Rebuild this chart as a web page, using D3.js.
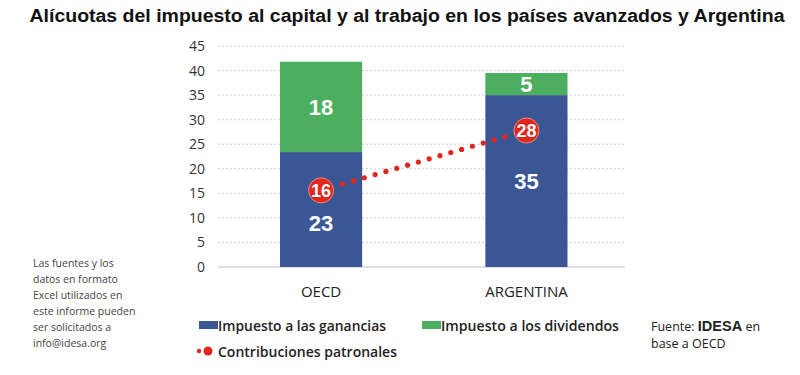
<!DOCTYPE html>
<html><head><meta charset="utf-8">
<script src="https://cdn.jsdelivr.net/npm/d3@7"></script>
<style>body{margin:0;background:#fff}</style>
</head><body>
<svg id="c" width="800" height="375"></svg>
<script>
const categories = ["OECD", "ARGENTINA"];
const ganancias = [23.4, 35.0];
const dividendos = [18.4, 4.5];
const contribuciones = [15.6, 27.8];
const yTicks = [0, 5, 10, 15, 20, 25, 30, 35, 40, 45];
const noteLines = ["Las fuentes y los", "datos en formato", "Excel utilizados en", "este informe pueden", "ser solicitados a", "info@idesa.org"];

const blue = "#3a5694", green = "#4caf5f", red = "#e2261c";
const svg = d3.select("#c");
const x = d3.scaleBand().domain(categories).range([280, 567.5]).paddingInner(0.6).paddingOuter(0);
const y = d3.scaleLinear().domain([0, 45]).range([267, 46]);

svg.append("text").attr("x", 407).attr("y", 22).attr("text-anchor", "middle")
  .attr("font-family", "Liberation Sans, Arial, sans-serif").attr("font-weight", "bold")
  .attr("font-size", 18).attr("fill", "#111").attr("textLength", 755).attr("lengthAdjust", "spacingAndGlyphs")
  .text("Alícuotas del impuesto al capital y al trabajo en los países avanzados y Argentina");

// grid
svg.append("g").selectAll("line").data(yTicks.filter(d => d > 0)).join("line")
  .attr("x1", 218).attr("x2", 625).attr("y1", d => y(d)).attr("y2", d => y(d))
  .attr("stroke", "#cfcfcf").attr("stroke-dasharray", "2,2").attr("stroke-width", 1);
svg.append("line").attr("x1", 218).attr("x2", 625).attr("y1", y(0)).attr("y2", y(0))
  .attr("stroke", "#d6d6d6").attr("stroke-width", 1.5);

const ax = svg.append("g").attr("transform", "translate(205,0)")
  .call(d3.axisLeft(y).tickValues(yTicks).tickSize(0).tickPadding(0));
ax.select(".domain").remove();
ax.selectAll("text").attr("font-family", "Open Sans, sans-serif").attr("font-size", 14).attr("fill", "#333");

const xa = svg.append("g").attr("transform", "translate(0," + y(0) + ")")
  .call(d3.axisBottom(x).tickSize(0).tickPadding(19));
xa.select(".domain").remove();
xa.selectAll("text").attr("font-family", "Open Sans, sans-serif").attr("font-size", 15).attr("fill", "#222");

// bars
const bw = x.bandwidth();
svg.append("g").selectAll("rect").data(categories).join("rect")
  .attr("x", d => x(d)).attr("width", bw)
  .attr("y", (d, i) => y(ganancias[i])).attr("height", (d, i) => y(0) - y(ganancias[i])).attr("fill", blue);
svg.append("g").selectAll("rect").data(categories).join("rect")
  .attr("x", d => x(d)).attr("width", bw)
  .attr("y", (d, i) => y(ganancias[i] + dividendos[i]))
  .attr("height", (d, i) => y(ganancias[i]) - y(ganancias[i] + dividendos[i])).attr("fill", green);

const lblFont = "Liberation Sans, Arial, sans-serif";
svg.append("g").selectAll("text").data(categories).join("text")
  .attr("x", d => x(d) + bw / 2).attr("y", (d, i) => (i === 0 ? y(9) : y(ganancias[i] * 0.5)) + 8)
  .attr("text-anchor", "middle").attr("font-family", lblFont).attr("font-weight", "bold").attr("font-size", 22)
  .attr("fill", "#fff").text((d, i) => Math.round(ganancias[i]));
svg.append("g").selectAll("text").data(categories).join("text")
  .attr("x", d => x(d) + bw / 2).attr("y", (d, i) => y(ganancias[i] + dividendos[i] / 2) + 8)
  .attr("text-anchor", "middle").attr("font-family", lblFont).attr("font-weight", "bold").attr("font-size", 22)
  .attr("fill", "#fff").text((d, i) => Math.round(dividendos[i]));

// dotted line
const pts = categories.map((c, i) => [x(c) + bw / 2, y(contribuciones[i])]);
const dx = pts[1][0] - pts[0][0], dy = pts[1][1] - pts[0][1];
const L = Math.hypot(dx, dy), n = Math.round(L / 11);
const dots = d3.range(1, n).map(k => [pts[0][0] + dx * k / n, pts[0][1] + dy * k / n])
  .filter(p => Math.hypot(p[0] - pts[0][0], p[1] - pts[0][1]) > 14 && Math.hypot(p[0] - pts[1][0], p[1] - pts[1][1]) > 12);
svg.append("g").selectAll("circle").data(dots).join("circle")
  .attr("cx", d => d[0]).attr("cy", d => d[1]).attr("r", 2.6).attr("fill", red);
svg.append("g").selectAll("circle").data(pts).join("circle")
  .attr("cx", d => d[0]).attr("cy", d => d[1]).attr("r", 12.5).attr("fill", red)
  .attr("stroke", "#f08a80").attr("stroke-width", 1);
svg.append("g").selectAll("text").data(pts).join("text")
  .attr("x", d => d[0]).attr("y", d => d[1] + 6.5).attr("text-anchor", "middle")
  .attr("font-family", lblFont).attr("font-weight", "bold").attr("font-size", 18).attr("fill", "#fff")
  .text((d, i) => Math.round(contribuciones[i]));

// legend
const lf = "Open Sans, sans-serif";
svg.append("rect").attr("x", 199).attr("y", 321).attr("width", 19).attr("height", 8).attr("fill", blue);
svg.append("text").attr("x", 218).attr("y", 331).attr("font-family", lf).attr("font-weight", 600).attr("font-size", 13.5)
  .attr("fill", "#222").attr("textLength", 168).attr("lengthAdjust", "spacingAndGlyphs").text("Impuesto a las ganancias");
svg.append("rect").attr("x", 422).attr("y", 321).attr("width", 19).attr("height", 8).attr("fill", green);
svg.append("text").attr("x", 441).attr("y", 331).attr("font-family", lf).attr("font-weight", 600).attr("font-size", 13.5)
  .attr("fill", "#222").attr("textLength", 178).attr("lengthAdjust", "spacingAndGlyphs").text("Impuesto a los dividendos");
svg.append("circle").attr("cx", 199).attr("cy", 351).attr("r", 2.2).attr("fill", red);
svg.append("circle").attr("cx", 208).attr("cy", 351).attr("r", 4.5).attr("fill", red);
svg.append("text").attr("x", 218).attr("y", 357).attr("font-family", lf).attr("font-weight", 600).attr("font-size", 13.5)
  .attr("fill", "#222").attr("textLength", 179).attr("lengthAdjust", "spacingAndGlyphs").text("Contribuciones patronales");

const fu = svg.append("text").attr("x", 651).attr("y", 331).attr("font-family", lf).attr("font-size", 12.5).attr("fill", "#222");
fu.append("tspan").text("Fuente: ");
fu.append("tspan").attr("font-family", "Liberation Sans, Arial, sans-serif").attr("font-weight", "bold").attr("font-size", 14.5).text("IDESA");
fu.append("tspan").text(" en");
svg.append("text").attr("x", 651).attr("y", 348).attr("font-family", lf).attr("font-size", 12.5).attr("fill", "#222").text("base a OECD");

svg.append("g").selectAll("text").data(noteLines).join("text")
  .attr("x", 33).attr("y", (d, i) => 267 + i * 16).attr("font-family", lf).attr("font-size", 10.5).attr("fill", "#444").text(d => d);
</script>
</body></html>
